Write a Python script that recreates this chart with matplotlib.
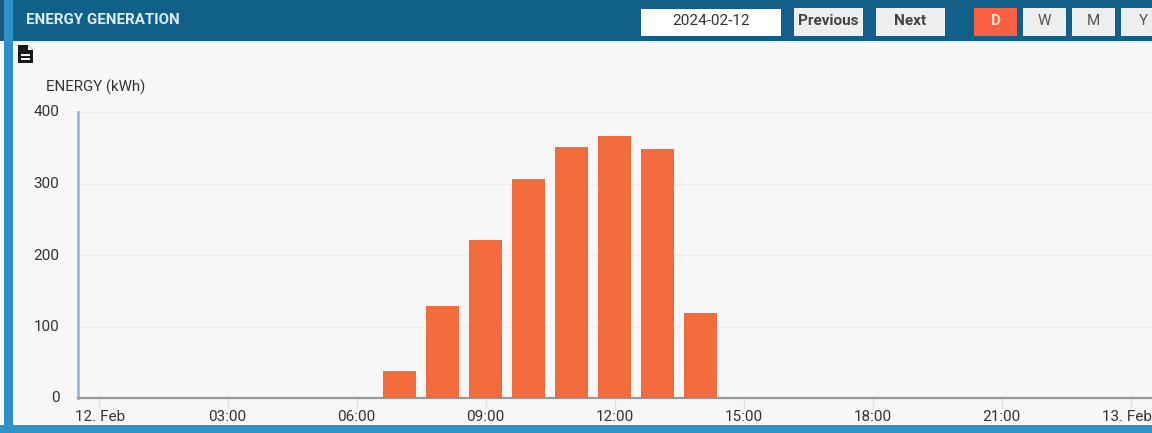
import matplotlib
matplotlib.use("Agg")
import matplotlib.pyplot as plt
from matplotlib.patches import Rectangle
from matplotlib.transforms import ScaledTranslation

plt.rcParams['font.family'] = ['Roboto', 'DejaVu Sans']

title = "ENERGY GENERATION"
date_text = "2024-02-12"
y_title = "ENERGY (kWh)"
hours = [7, 8, 9, 10, 11, 12, 13, 14]
energy = [38, 128, 221, 306, 351, 367, 348, 119]
tick_hours = [0, 3, 6, 9, 12, 15, 18, 21, 24]
tick_labels = ["12. Feb", "03:00", "06:00", "09:00", "12:00", "15:00", "18:00", "21:00", "13. Feb"]
y_ticks = [0, 100, 200, 300, 400]

W, H = 1152, 433
fig = plt.figure(figsize=(W / 100, H / 100), dpi=100, facecolor='#f7f7f7')

# page furniture, drawn in pixel coordinates
bg = fig.add_axes([0, 0, 1, 1], zorder=0)
bg.set_xlim(0, W)
bg.set_ylim(H, 0)
bg.axis('off')


def box(x0, y0, x1, y1, color):
    bg.add_patch(Rectangle((x0, y0), x1 - x0, y1 - y0, fc=color, ec='none'))


box(0, 0, W, 41, '#12608a')
box(0, 41, W, 43, '#dff3fb')
box(0, 40, 4, H, '#f4f8fb')
box(0, 0, 4, 41, '#1c5878')
box(4, 0, 13, H, '#2f8fc9')
box(0, 425, W, H, '#2f92c4')
bg.text(26, 20.5, title, color='#d8ecf5', fontsize=10.9, fontweight='bold', va='center', ha='left')

box(641, 9, 781, 36, '#ffffff')
bg.text(711.5, 21, date_text, color='#333333', fontsize=11, va='center', ha='center')
for x0, x1, label, fc, tc, w in [
    (794, 863, "Previous", '#eeeeee', '#444444', 'bold'),
    (876, 945, "Next", '#eeeeee', '#444444', 'bold'),
    (974, 1017, "D", '#fb5f42', '#f8dcc8', 'bold'),
    (1023, 1066, "W", '#eeeeee', '#555555', 'normal'),
    (1072, 1115, "M", '#eeeeee', '#555555', 'normal'),
    (1121, 1152, "Y", '#eeeeee', '#555555', 'normal'),
]:
    box(x0, 8, x1, 36, fc)
    cx = 1143 if label == "Y" else (x0 + x1) / 2
    bg.text(cx, 21, label, color=tc, fontsize=11, fontweight=w, va='center', ha='center')

# document icon
bg.add_patch(plt.Polygon([(18, 45), (28, 45), (33, 50), (33, 63), (18, 63)], fc='#1a1a1a', ec='none'))
bg.add_patch(plt.Polygon([(28, 45), (33, 50), (28, 50)], fc='#f2f2f2', ec='none'))
box(21, 54, 30, 55.6, '#f2f2f2')
box(21, 58, 30, 59.6, '#f2f2f2')

bg.text(45.5, 87.5, y_title, color='#333333', fontsize=10.8, va='center', ha='left')

# chart
left, right, top, bottom = 78, 1152, 112, 398
ax = fig.add_axes([left / W, 1 - bottom / H, (right - left) / W, (bottom - top) / H], zorder=1)
ax.patch.set_alpha(0)
px_per_hour = 43.0
ax.set_xlim((left - 98.5) / px_per_hour, (right - 98.5) / px_per_hour)
ax.set_ylim(0, 400)
ax.bar(hours, energy, width=33 / px_per_hour, color='#f26b3c', zorder=3)

ax.set_yticks(y_ticks)
ax.set_xticks(tick_hours)
ax.set_xticklabels(tick_labels)
ax.grid(axis='y', color='#eeeeee', lw=1, zorder=0)
ax.tick_params(axis='y', length=0, pad=13.5, labelsize=11, labelcolor='#333333')
ax.tick_params(axis='x', length=7, width=1, color='#e0e0e0', pad=1.7, labelsize=11, labelcolor='#333333')
shift = ScaledTranslation(0, 1 / 100, fig.dpi_scale_trans)
for lbl in ax.get_yticklabels():
    lbl.set_transform(lbl.get_transform() + shift)
xlabels = ax.get_xticklabels()
xlabels[0].set_transform(xlabels[0].get_transform() + ScaledTranslation(2 / 100, 0, fig.dpi_scale_trans))
xlabels[-1].set_transform(xlabels[-1].get_transform() + ScaledTranslation(-4 / 100, 0, fig.dpi_scale_trans))
for s in ('top', 'right'):
    ax.spines[s].set_visible(False)
ax.spines['left'].set_color('#8fbde6')
ax.spines['left'].set_linewidth(2)
ax.spines['bottom'].set_color('#999999')
ax.spines['bottom'].set_linewidth(1.6)

fig.savefig('out.png', dpi=100, facecolor=fig.get_facecolor())
